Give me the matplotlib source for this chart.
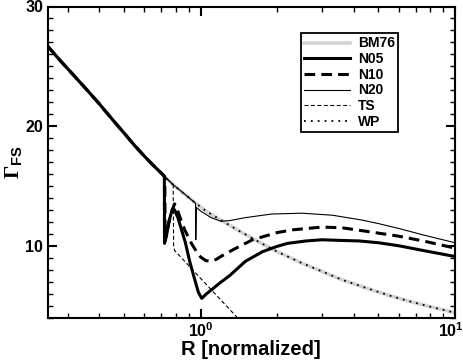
import matplotlib
matplotlib.use('Agg')
import matplotlib.pyplot as plt
from matplotlib.ticker import MultipleLocator, LogLocator, NullFormatter
from matplotlib.transforms import ScaledTranslation

plt.rcParams['font.family'] = ['Liberation Sans', 'DejaVu Sans']
plt.rcParams['font.weight'] = 'bold'
plt.rcParams['mathtext.fontset'] = 'custom'
plt.rcParams['mathtext.rm'] = 'Liberation Serif'
plt.rcParams['mathtext.bf'] = 'Liberation Sans:bold'
plt.rcParams['mathtext.it'] = 'Liberation Sans:bold'

# common early branch (all models coincide here)
r_early = [0.25, 0.28, 0.32, 0.36, 0.40, 0.45, 0.50, 0.55, 0.60, 0.65, 0.70, 0.72]
g_early = [26.7, 25.5, 24.15, 22.95, 21.85, 20.55, 19.42, 18.38, 17.5, 16.74, 16.07, 15.8]

# WP / BM76 continuation
r_wp = [0.78, 0.85, 0.95, 1.05, 1.2, 1.4, 1.7, 2.0, 2.5, 3.0, 3.6, 4.5, 5.5, 6.5, 8.0, 10.0]
g_wp = [15.1, 14.45, 13.6, 12.9, 12.15, 11.3, 10.3, 9.5, 8.55, 7.85, 7.15, 6.45, 5.85, 5.4, 4.9, 4.4]

# N05
r_n05 = [0.721, 0.735, 0.75, 0.775, 0.79, 0.815, 0.842, 0.87, 0.908, 0.95, 0.98, 1.01, 1.05, 1.1,
         1.2, 1.3, 1.5, 1.75, 2.0, 2.2, 2.6, 3.0, 3.6, 4.2, 5.0, 6.0, 7.5, 10.0]
g_n05 = [10.2, 10.9, 12.0, 13.1, 13.0, 12.3, 11.3, 10.3, 8.6, 7.1, 6.1, 5.6, 5.95, 6.3,
         6.95, 7.5, 8.7, 9.5, 9.95, 10.2, 10.4, 10.5, 10.44, 10.4, 10.25, 10.0, 9.6, 9.1]

# N10
r_n10 = [0.723, 0.725, 0.76, 0.79, 0.804, 0.835, 0.867, 0.92, 0.97, 1.0, 1.05, 1.1, 1.15, 1.2,
         1.35, 1.6, 2.0, 2.3, 3.0, 3.6, 4.5, 6.0, 7.5, 10.0]
g_n10 = [15.75, 10.4, 12.5, 13.5, 13.2, 12.2, 11.3, 10.2, 9.4, 9.05, 8.75, 8.72, 8.85, 9.1,
         9.7, 10.5, 11.1, 11.33, 11.56, 11.5, 11.2, 10.8, 10.4, 9.8]

# N20 (follows WP until the jump)
r_n20 = [0.78, 0.85, 0.955, 0.957, 0.962, 1.0, 1.1, 1.2, 1.3, 1.5, 1.9, 2.5, 3.3, 4.3, 5.0, 6.0, 7.5, 10.0]
g_n20 = [15.1, 14.45, 13.55, 10.5, 13.2, 12.9, 12.35, 12.05, 12.1, 12.35, 12.65, 12.72, 12.55, 12.15,
         11.85, 11.45, 10.9, 10.25]

# TS
r_ts = [0.78, 0.783, 0.79, 0.9, 1.0, 1.1, 1.2, 1.3, 1.45]
g_ts = [15.1, 10.0, 9.6, 8.32, 7.27, 6.33, 5.47, 4.68, 3.6]

fig = plt.figure(figsize=(4.63, 3.63), dpi=100)
ax = fig.add_axes([47.5 / 463, 1 - 317.5 / 363, 407.5 / 463, 311 / 363])

ax.plot(r_early + r_wp, g_early + g_wp, color='#d3d3d3', lw=2.6, label='BM76', zorder=1)
ax.plot(r_early + r_n05, g_early + g_n05, color='black', lw=2.2, label='N05', zorder=6)
ax.plot(r_early + r_n10, g_early + g_n10, color='black', lw=2.2, dashes=[3.5, 2.0], label='N10', zorder=5)
ax.plot(r_early + r_n20, g_early + g_n20, color='black', lw=0.8, label='N20', zorder=4)
ax.plot(r_early + r_ts, g_early + g_ts, color='black', lw=0.8, dashes=[3.6, 2.2], label='TS', zorder=3)
ax.plot(r_early + r_wp, g_early + g_wp, color='black', lw=1.3, dashes=[1, 2.8], label='WP', zorder=2)

ax.set_xscale('log')
ax.set_xlim(0.25, 10)
ax.set_ylim(4, 30)

ax.set_xticks([1, 10])
ax.set_xticklabels([r'$\mathbf{10^{0}}$', r'$\mathbf{10^{1}}$'])
ax.xaxis.set_minor_locator(LogLocator(base=10, subs=[2, 3, 4, 5, 6, 7, 8, 9]))
ax.xaxis.set_minor_formatter(NullFormatter())
ax.yaxis.set_major_locator(MultipleLocator(10))
ax.yaxis.set_minor_locator(MultipleLocator(1))

ax.tick_params(which='both', direction='in', top=True, right=True, labelsize=11.5, pad=3)
ax.tick_params(which='major', length=6.5, width=1.5)
ax.tick_params(which='minor', length=3.6, width=1.0)
for sp in ax.spines.values():
    sp.set_linewidth(1.5)

# keep the last x label inside the canvas
lbl = ax.get_xticklabels()[-1]
lbl.set_transform(lbl.get_transform() + ScaledTranslation(-4 / 100, 0, fig.dpi_scale_trans))

ax.set_xlabel('R [normalized]', fontsize=14.5, fontweight='bold', labelpad=0)
ax.set_ylabel(r'$\Gamma_{\mathbf{FS}}$', fontsize=15)
ax.yaxis.set_label_coords(-0.055, 0.5)

leg = ax.legend(loc='upper left', bbox_to_anchor=(0.622, 0.915), fontsize=10,
                handlelength=3.3, handletextpad=0.55, labelspacing=0.12,
                borderpad=0.25, borderaxespad=0, fancybox=False, framealpha=1)
leg.get_frame().set_edgecolor('black')
leg.get_frame().set_linewidth(1.3)

fig.savefig('out.png', dpi=100, facecolor='white')
